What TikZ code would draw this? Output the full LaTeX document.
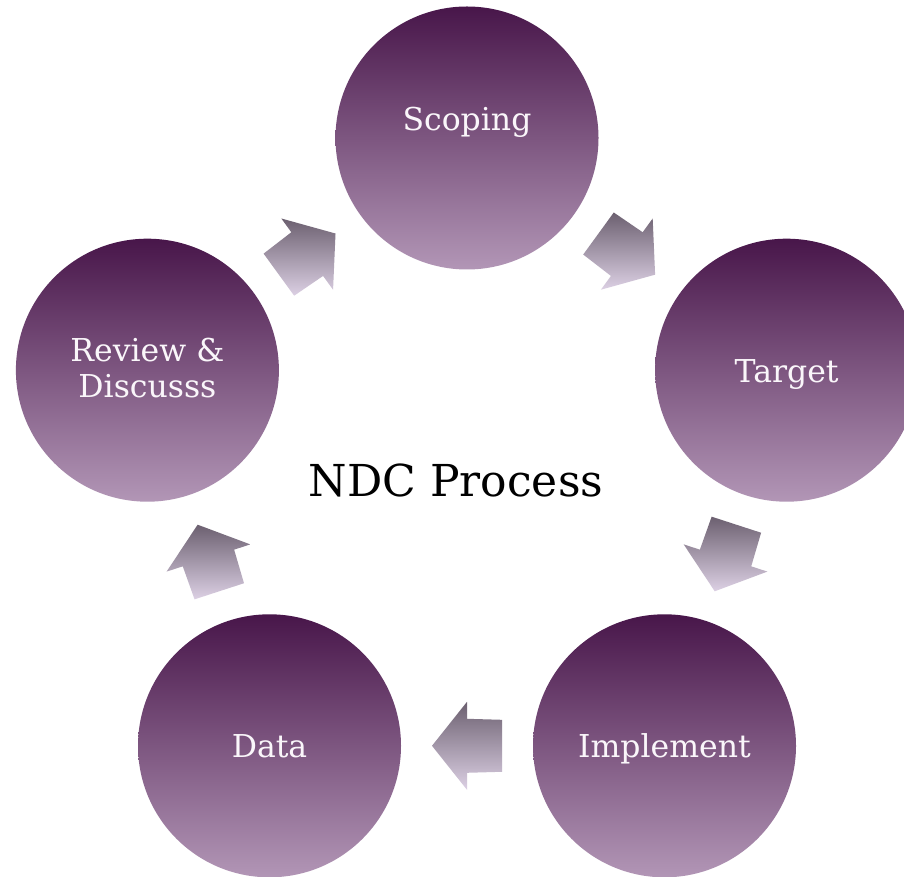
\documentclass[tikz,border=0pt]{standalone}
\usepackage{fontspec}
\setmainfont{DejaVu Serif}
\usetikzlibrary{calc}
\definecolor{ctop}{RGB}{72,22,74}
\definecolor{cmid}{RGB}{130,98,130}
\definecolor{cbot}{RGB}{178,150,182}
\definecolor{atop}{RGB}{108,96,112}
\definecolor{abot}{RGB}{220,208,228}
\definecolor{txt}{RGB}{250,246,250}
\tikzset{
  circ/.style={circle, minimum size=263pt, inner sep=0pt, shade, top color=ctop, middle color=cmid, bottom color=cbot},
  lbl/.style={text=txt, font=\fontsize{31.5}{36.5}\selectfont, anchor=base, align=center, inner sep=0pt},
  blockarrow/.style={shade, top color=atop, bottom color=abot, draw=none},
}
\newcommand{\blockarr}[2]{%
  \path[blockarrow] ($(#1)+({#2+143.4}:43.6)$) -- ($(#1)+({#2+90}:27)$) -- ($(#1)+({#2+90}:44)$)
   -- ($(#1)+({#2}:35)$) -- ($(#1)+({#2-90}:44)$) -- ($(#1)+({#2-90}:27)$) -- ($(#1)+({#2-143.4}:43.6)$) -- cycle;}
\begin{document}
\begin{tikzpicture}[x=1pt,y=1pt]
\useasboundingbox (0,0) rectangle (904,876);
\fill[white] (0,0) rectangle (904,876);
\node[circ] (scoping) at (467,738) {};
\node[circ] (target) at (786.6,505.8) {};
\node[circ] (implement) at (664.5,130.2) {};
\node[circ] (data) at (269.5,130.2) {};
\node[circ] (review) at (147.4,505.8) {};
\node[lbl] (tscoping) at (467,745) {Scoping};
\node[lbl] (ttarget) at (786.6,493) {Target};
\node[lbl] (timplement) at (664.5,118.7) {Implement};
\node[lbl] (tdata) at (269.5,118.7) {Data};
\node[lbl] (treview) at (147.4,478) {Review \&\\Discusss};
\node[font=\fontsize{44}{50}\selectfont, anchor=base, inner sep=0pt] (title) at (456,379) {NDC Process};
\coordinate (a1) at ($(scoping)!0.5!(target)$);
\coordinate (a2) at ($(target)!0.5!(implement)$);
\coordinate (a3) at ($(implement)!0.5!(data)$);
\coordinate (a4) at ($(data)!0.5!(review)$);
\coordinate (a5) at ($(review)!0.5!(scoping)$);
\blockarr{a1}{-36}
\blockarr{a2}{-108}
\blockarr{a3}{180}
\blockarr{a4}{108}
\blockarr{a5}{36}
\end{tikzpicture}
\end{document}
